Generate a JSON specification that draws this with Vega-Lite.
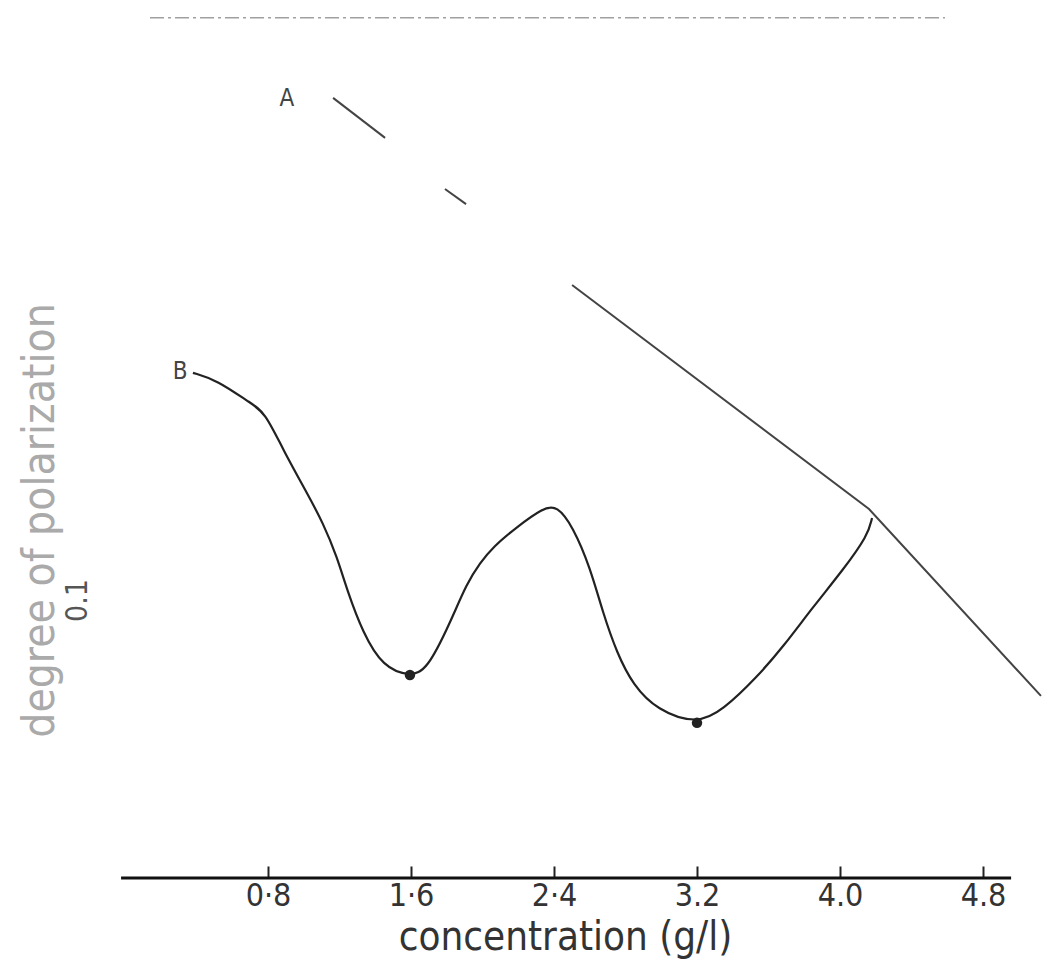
{
  "$schema": "https://vega.github.io/schema/vega-lite/v6.json",
  "autosize": "none",
  "width": 920.6,
  "height": 878,
  "padding": {"left": 125, "top": 0, "right": 0, "bottom": 98},
  "background": "white",
  "config": {"view": {"stroke": null}, "font": "Liberation Sans Narrow, DejaVu Sans Condensed, sans-serif"},
  "datasets": {
    "lineA": [
      {"seg": "A1", "c": 1.164, "p": 0.2806},
      {"seg": "A1", "c": 1.455, "p": 0.2662},
      {"seg": "A2", "c": 1.790, "p": 0.2478},
      {"seg": "A2", "c": 1.908, "p": 0.2424},
      {"seg": "A3", "c": 2.501, "p": 0.2133},
      {"seg": "A3", "c": 4.162, "p": 0.1327},
      {"seg": "A3", "c": 5.124, "p": 0.0655}
    ],
    "lineB": [
      {"c": 0.380, "p": 0.1817},
      {"c": 0.515, "p": 0.1791},
      {"c": 0.699, "p": 0.1709},
      {"c": 0.783, "p": 0.1676},
      {"c": 0.884, "p": 0.1540},
      {"c": 1.018, "p": 0.1385},
      {"c": 1.108, "p": 0.1277},
      {"c": 1.186, "p": 0.1155},
      {"c": 1.242, "p": 0.1036},
      {"c": 1.331, "p": 0.0881},
      {"c": 1.443, "p": 0.0759},
      {"c": 1.594, "p": 0.0725},
      {"c": 1.690, "p": 0.0748},
      {"c": 1.818, "p": 0.0917},
      {"c": 1.913, "p": 0.1061},
      {"c": 1.986, "p": 0.1133},
      {"c": 2.059, "p": 0.1191},
      {"c": 2.193, "p": 0.1263},
      {"c": 2.338, "p": 0.1331},
      {"c": 2.417, "p": 0.1340},
      {"c": 2.506, "p": 0.1263},
      {"c": 2.601, "p": 0.1119},
      {"c": 2.674, "p": 0.0953},
      {"c": 2.752, "p": 0.0809},
      {"c": 2.842, "p": 0.0694},
      {"c": 2.976, "p": 0.0604},
      {"c": 3.200, "p": 0.0553},
      {"c": 3.345, "p": 0.0604},
      {"c": 3.536, "p": 0.0723},
      {"c": 3.681, "p": 0.0831},
      {"c": 3.849, "p": 0.0975},
      {"c": 4.017, "p": 0.1108},
      {"c": 4.157, "p": 0.1234},
      {"c": 4.179, "p": 0.1295}
    ],
    "markers": [
      {"c": 1.594, "p": 0.0730},
      {"c": 3.200, "p": 0.0558}
    ],
    "labels": [
      {"text": "A", "c": 0.906, "p": 0.2802},
      {"text": "B", "c": 0.308, "p": 0.1820}
    ],
    "axisline": [
      {"c": -0.022, "c2": 4.957, "p": 0}
    ],
    "topline": [
      {"c": 0.14, "c2": 4.587, "p": 0.3094}
    ]
  },
  "layer": [
    {
      "data": {"name": "topline"},
      "mark": {"type": "rule", "color": "#888888", "strokeWidth": 1.5, "strokeDash": [14, 4, 3, 4], "opacity": 0.8},
      "encoding": {
        "x": {"field": "c", "type": "quantitative", "scale": {"domain": [0, 5.15], "nice": false, "zero": false},
          "axis": {"values": [0.8, 1.6, 2.4, 3.2, 4.0, 4.8], "domain": false, "grid": false, "tickSize": -12, "tickWidth": 2, "tickColor": "#222222",
            "labelExpr": "datum.value == 0.8 ? '0·8' : datum.value == 1.6 ? '1·6' : datum.value == 2.4 ? '2·4' : datum.value == 3.2 ? '3.2' : datum.value == 4 ? '4.0' : '4.8'",
            "labelFontSize": 32, "labelColor": "#333333", "labelBaseline": "alphabetic", "labelPadding": 40, "labelFlush": false,
            "title": "concentration (g/l)", "titleFontSize": 40, "titleFontWeight": "normal", "titleColor": "#333333", "titleX": 440, "titleY": 72, "titleBaseline": "alphabetic"}},
        "x2": {"field": "c2"},
        "y": {"field": "p", "type": "quantitative", "scale": {"domain": [0, 0.3158], "nice": false, "zero": false},
          "axis": {"values": [0.1], "domain": false, "ticks": false, "grid": false, "labelExpr": "'0.1'", "labelAngle": -90, "labelFontSize": 30, "labelColor": "#555555", "labelPadding": 32, "labelAlign": "center", "labelBaseline": "bottom",
            "title": "degree of polarization", "titleFontSize": 44, "titleFontWeight": "normal", "titleColor": "#aaaaaa", "titleX": -84, "titleY": 520, "titleAlign": "center", "titleBaseline": "middle"}}
      }
    },
    {
      "data": {"name": "axisline"},
      "mark": {"type": "rule", "color": "#111111", "strokeWidth": 3},
      "encoding": {
        "x": {"field": "c", "type": "quantitative"},
        "x2": {"field": "c2"},
        "y": {"field": "p", "type": "quantitative"}
      }
    },
    {
      "data": {"name": "lineA"},
      "mark": {"type": "line", "interpolate": "linear", "strokeWidth": 2, "color": "#444444"},
      "encoding": {
        "x": {"field": "c", "type": "quantitative"},
        "y": {"field": "p", "type": "quantitative"},
        "detail": {"field": "seg"}
      }
    },
    {
      "data": {"name": "lineB"},
      "mark": {"type": "line", "interpolate": "basis", "strokeWidth": 2.2, "color": "#222222"},
      "encoding": {
        "x": {"field": "c", "type": "quantitative"},
        "y": {"field": "p", "type": "quantitative"}
      }
    },
    {
      "data": {"name": "markers"},
      "mark": {"type": "point", "filled": true, "color": "#222222", "size": 110, "opacity": 1},
      "encoding": {
        "x": {"field": "c", "type": "quantitative"},
        "y": {"field": "p", "type": "quantitative"}
      }
    },
    {
      "data": {"name": "labels"},
      "mark": {"type": "text", "fontSize": 24, "color": "#444444", "align": "center", "baseline": "middle"},
      "encoding": {
        "x": {"field": "c", "type": "quantitative"},
        "y": {"field": "p", "type": "quantitative"},
        "text": {"field": "text"}
      }
    }
  ]
}
